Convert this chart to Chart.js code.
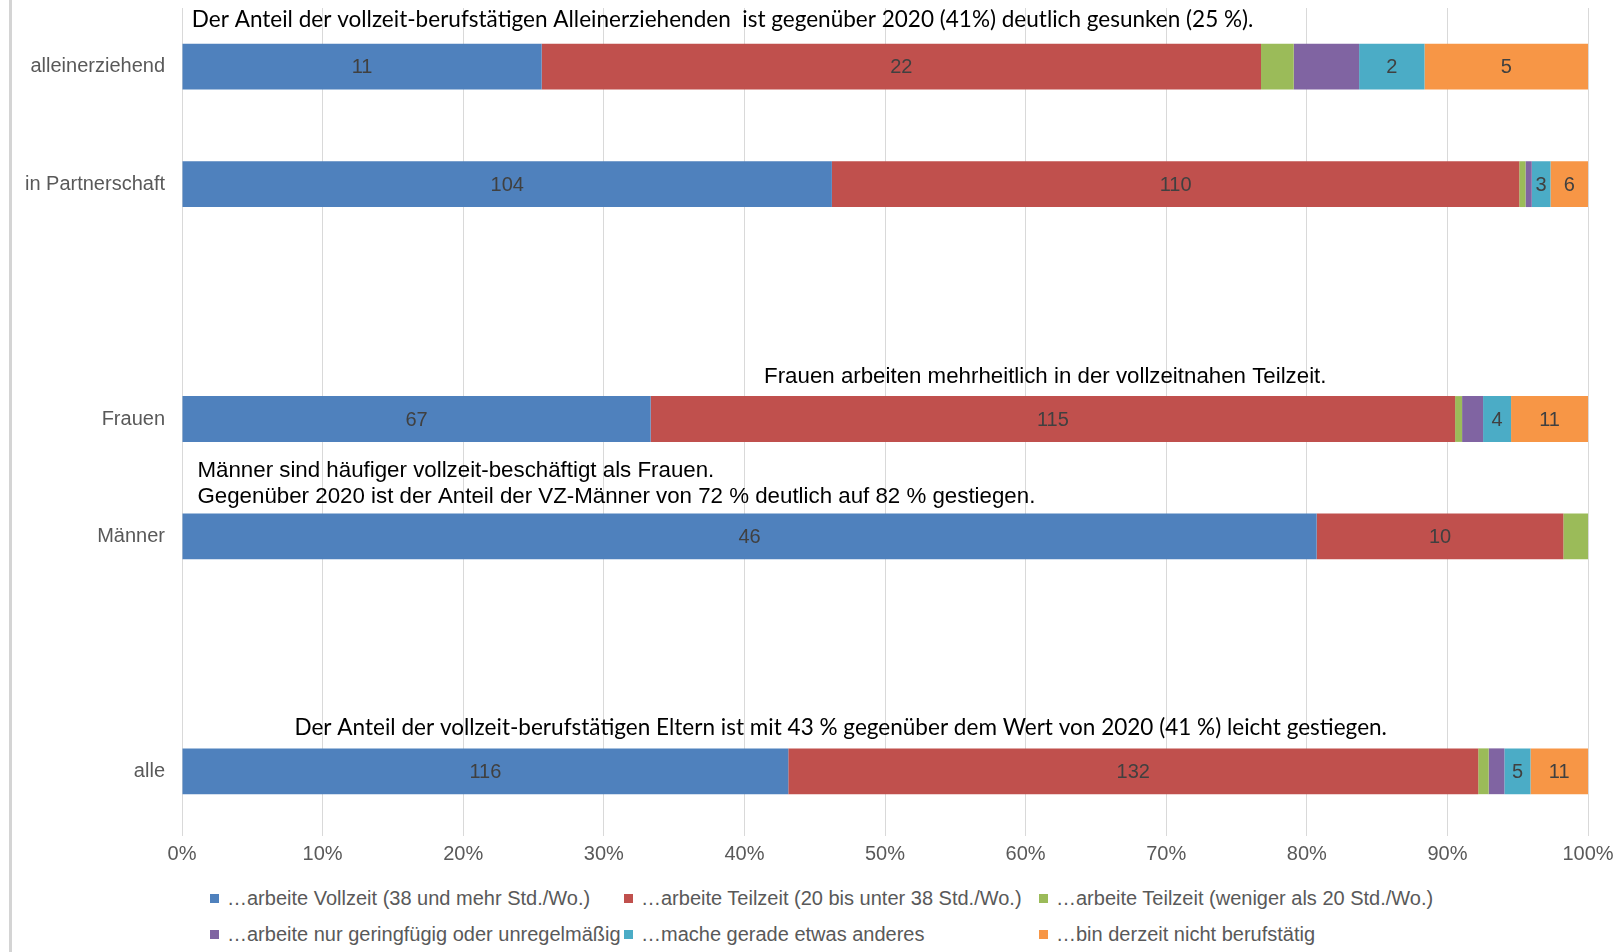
<!DOCTYPE html>
<html lang="de">
<head>
<meta charset="utf-8">
<title>Erwerbstätigkeit der Eltern</title>
<script src="https://cdn.jsdelivr.net/npm/chart.js@4.4.1/dist/chart.umd.min.js"></script>
<style>
  body { margin: 0; background: #fff; }
  #wrap { position: relative; width: 1623px; height: 952px; overflow: hidden; }
  #frame { position: absolute; left: 9px; top: 0; width: 3px; height: 952px; background: #d4d4d4; }
  #chart { position: absolute; left: 0; top: 0; }
  #legend {
    position: absolute; left: 210px; top: 880px;
    display: grid; grid-template-columns: 414px 415px 440px;
    font: 20px "Liberation Sans", Arial, sans-serif; color: #595959;
  }
  #legend .item { height: 36px; line-height: 36px; white-space: nowrap; display: flex; align-items: center; }
  #legend .box { width: 9px; height: 9px; margin-right: 8px; flex: none; }
</style>
</head>
<body>
<div id="wrap">
  <div id="frame"></div>
  <canvas id="chart" width="1623" height="880"></canvas>
  <div id="legend"></div>
</div>
<script>
// categories (empty strings are the spacer rows of the original chart)
const categories = ['alleinerziehend', 'in Partnerschaft', '', 'Frauen', 'Männer', '', 'alle'];

const seriesNames = [
  '\u2026arbeite Vollzeit (38 und mehr Std./Wo.)',
  '\u2026arbeite Teilzeit (20 bis unter 38 Std./Wo.)',
  '\u2026arbeite Teilzeit (weniger als 20 Std./Wo.)',
  '\u2026arbeite nur geringfügig oder unregelmäßig',
  '\u2026mache gerade etwas anderes',
  '\u2026bin derzeit nicht berufstätig'
];
const seriesColors = ['#4F81BD', '#C0504D', '#9BBB59', '#8064A2', '#4BACC6', '#F79646'];

// counts per category
const vollzeit          = [11, 104, null, 67, 46, null, 116];
const teilzeit          = [22, 110, null, 115, 10, null, 132];
const teilzeitUnter20   = [1, 1, null, 1, 1, null, 2];
const geringfuegig      = [2, 1, null, 3, 0, null, 3];
const etwasAnderes      = [2, 3, null, 4, 0, null, 5];
const nichtBerufstaetig = [5, 6, null, 11, 0, null, 11];

// which series carry value labels in the original
const labelledSeries = [true, true, false, false, true, true];

const xTickValues = [0, 10, 20, 30, 40, 50, 60, 70, 80, 90, 100];

const counts = [vollzeit, teilzeit, teilzeitUnter20, geringfuegig, etwasAnderes, nichtBerufstaetig];

const totals = categories.map((_, i) =>
  counts.reduce((sum, s) => sum + (s[i] || 0), 0));

// text notes placed over the bars
const calibriLike = '"Lato", "Open Sans", sans-serif';
const arialLike = '"Liberation Sans", Arial, sans-serif';
const notes = [
  { category: 'alleinerziehend', x: 0.7, width: 75.5, font: calibriLike, size: 23,
    lines: [['Der Anteil der vollzeit-berufstätigen Alleinerziehenden  ist gegenüber 2020 (41%) deutlich gesunken (25 %).', -47]] },
  { category: 'Frauen', x: 41.4, width: 40, font: arialLike, size: 22.3,
    lines: [['Frauen arbeiten mehrheitlich in der vollzeitnahen Teilzeit.', -42]] },
  { category: 'Männer', x: 1.1, width: 60, font: arialLike, size: 22.3,
    lines: [['Männer sind häufiger vollzeit-beschäftigt als Frauen.', -66],
            ['Gegenüber 2020 ist der Anteil der VZ-Männer von 72 % deutlich auf 82 % gestiegen.', -40]] },
  { category: 'alle', x: 8.0, width: 77.7, font: calibriLike, size: 23,
    lines: [['Der Anteil der vollzeit-berufstätigen Eltern ist mit 43 % gegenüber dem Wert von 2020 (41 %) leicht gestiegen.', -44]] }
];

const datasets = counts.map((series, d) => ({
  label: seriesNames[d],
  data: series.map((v, i) => v == null ? null : v / totals[i] * 100),
  counts: series,
  backgroundColor: seriesColors[d],
  borderWidth: 0,
  barPercentage: 0.39,
  categoryPercentage: 1
}));

const valueLabels = {
  id: 'valueLabels',
  afterDatasetsDraw(chart) {
    const ctx = chart.ctx;
    ctx.save();
    ctx.font = '20px "Liberation Sans", Arial, sans-serif';
    ctx.fillStyle = '#404040';
    ctx.textAlign = 'center';
    ctx.textBaseline = 'middle';
    chart.data.datasets.forEach((ds, d) => {
      if (!labelledSeries[d]) return;
      chart.getDatasetMeta(d).data.forEach((bar, i) => {
        const v = ds.counts[i];
        if (!v) return;
        ctx.fillText(String(v), (bar.x + bar.base) / 2, bar.y + 1);
      });
    });
    ctx.restore();
  }
};

const noteText = {
  id: 'noteText',
  afterDatasetsDraw(chart) {
    const ctx = chart.ctx;
    const xs = chart.scales.x, ys = chart.scales.y;
    ctx.save();
    ctx.fillStyle = '#000';
    ctx.textAlign = 'left';
    ctx.textBaseline = 'middle';
    notes.forEach(n => {
      const cy = ys.getPixelForValue(categories.indexOf(n.category));
      const left = xs.getPixelForValue(n.x);
      const maxW = xs.getPixelForValue(n.x + n.width) - left;
      ctx.font = n.size + 'px ' + n.font;
      n.lines.forEach(([txt, dy]) => {
        ctx.fillText(txt, left, cy + dy, maxW);
      });
    });
    ctx.restore();
  }
};

const chart = new Chart(document.getElementById('chart'), {
  type: 'bar',
  data: { labels: categories, datasets: datasets },
  options: {
    indexAxis: 'y',
    responsive: false,
    animation: false,
    layout: { padding: { top: 8, right: 35, left: 0, bottom: 0 } },
    plugins: {
      legend: { display: false },
      tooltip: { enabled: false }
    },
    scales: {
      x: {
        stacked: true,
        min: 0,
        max: 100,
        afterBuildTicks(scale) { scale.ticks = xTickValues.map(v => ({ value: v })); },
        afterFit(scale) { scale.height = 50; },
        border: { display: false },
        grid: { color: '#d9d9d9', lineWidth: 1, tickLength: 6 },
        ticks: {
          padding: 6,
          color: '#595959',
          font: { family: '"Liberation Sans", Arial, sans-serif', size: 20 },
          callback: v => v + '%'
        }
      },
      y: {
        stacked: true,
        afterFit(scale) {
          scale.width = 182;
          scale.paddingTop = 0;
          scale.paddingBottom = 0;
        },
        border: { display: false },
        grid: { display: false },
        ticks: {
          padding: 9,
          color: '#595959',
          font: { family: '"Liberation Sans", Arial, sans-serif', size: 20 }
        }
      }
    }
  },
  plugins: [valueLabels, noteText]
});

// legend in three aligned columns, like the original
const legendBox = document.getElementById('legend');
seriesNames.forEach((name, d) => {
  const item = document.createElement('div');
  item.className = 'item';
  item.innerHTML = `<span class="box" style="background:${seriesColors[d]}"></span><span>${name}</span>`;
  legendBox.appendChild(item);
});
</script>
</body>
</html>
